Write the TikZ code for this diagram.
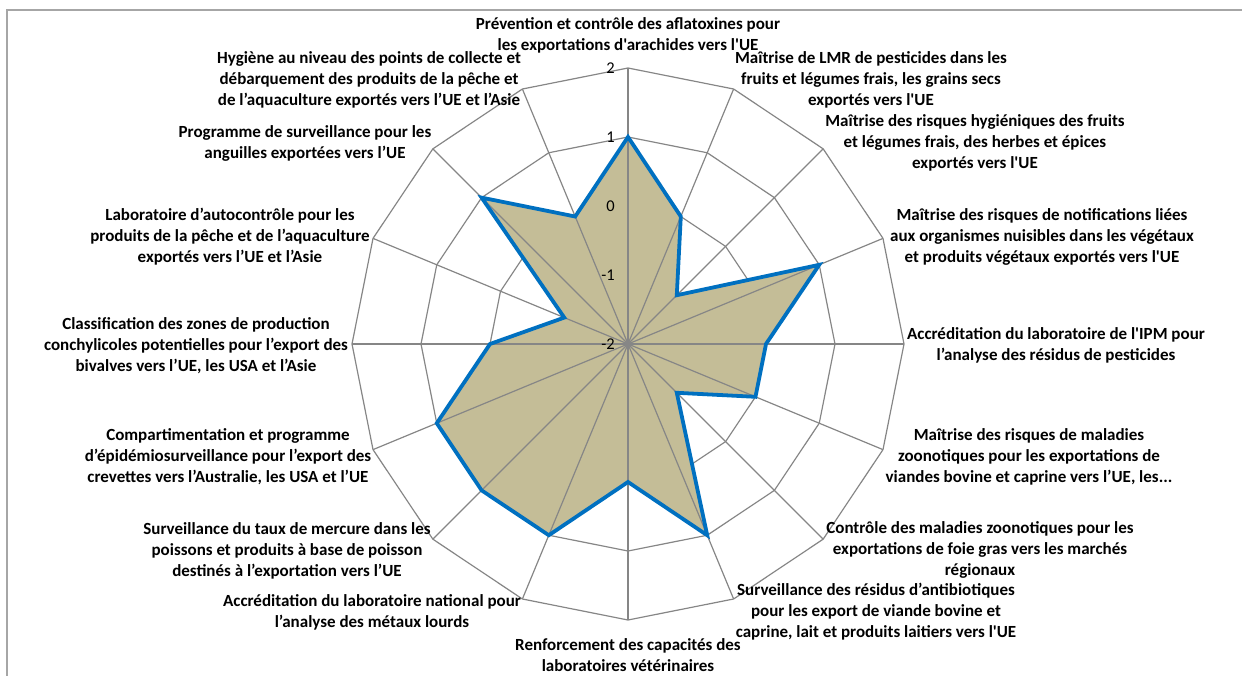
\documentclass[tikz,border=0pt]{standalone}
\usepackage{fontspec}
\newfontfamily\calib{Carlito}
\usetikzlibrary{calc}
\definecolor{gridgray}{RGB}{134,134,134}
\definecolor{framegray}{RGB}{166,166,166}
\definecolor{tanfill}{RGB}{196,189,151}
\definecolor{serieblue}{RGB}{0,112,192}
\begin{document}
\begin{tikzpicture}[x=1pt,y=-1pt,
  lab/.style={font=\calib\bfseries\fontsize{17}{21}\selectfont, align=center, inner sep=0pt, yshift=-1.5pt},
  tick/.style={font=\calib\fontsize{16.5}{19}\selectfont, anchor=east, inner sep=0pt},
  gridline/.style={draw=gridgray, line width=1.2pt},
  frameline/.style={draw=framegray, line width=1.5pt},
  serie/.style={draw=serieblue, line width=3.8pt, line join=miter},
  area/.style={fill=tanfill, draw=none}]
\useasboundingbox (0,0) rectangle (1242,675);
\draw[frameline] (7,700) |- (1260,10);
\begin{scope}[shift={(628,344)}]
  % rings
  \foreach \r in {69,138,207,276}{
    \draw[gridline] (-90:\r) \foreach \k in {1,...,15}{ -- ({22.5*\k-90}:\r)} -- cycle;
  }
  % data points
  \foreach \k/\r in {0/207,1/138,2/69,3/207,4/138,5/138,6/69,7/207,8/138,9/207,10/207,11/207,12/138,13/69,14/207,15/138}{
    \coordinate (p\k) at ({22.5*\k-90}:\r);
  }
  \foreach \k in {0,...,15}{
    \coordinate (a\k) at ({22.5*\k-90}:276);
  }
  \coordinate (c) at (0,0);
  \fill[area] (p0) -- (p1) -- (p2) -- (p3) -- (p4) -- (p5) -- (p6) -- (p7) -- (p8) -- (p9) -- (p10) -- (p11) -- (p12) -- (p13) -- (p14) -- (p15) -- cycle;
  % spokes
  \foreach \k in {0,...,15}{
    \draw[gridline] (c) -- (a\k);
  }
  \fill[gridgray] (c) circle (3pt);
  \draw[serie] (p0) -- (p1) -- (p2) -- (p3) -- (p4) -- (p5) -- (p6) -- (p7) -- (p8) -- (p9) -- (p10) -- (p11) -- (p12) -- (p13) -- (p14) -- (p15) -- cycle;
  % ticks
  \node[tick] (t2) at (-13,-276) {2};
  \node[tick] (t1) at (-13,-207) {1};
  \node[tick] (t0) at (-13,-138) {0};
  \node[tick] (tm1) at (-13,-69) {-1};
  \node[tick] (tm2) at (-13,0) {-2};
\end{scope}
% labels
\node[lab] (l0) at (628,33.5) {Prévention et contrôle des aflatoxines pour\\les exportations d'arachides vers l'UE};
\node[lab] (l1) at (871,78) {Maîtrise de LMR de pesticides dans les\\fruits et légumes frais, les grains secs\\exportés vers l'UE};
\node[lab] (l2) at (975,141) {Maîtrise des risques hygiéniques des fruits\\et légumes frais, des herbes et épices\\exportés vers l'UE};
\node[lab] (l3) at (1042,235) {Maîtrise des risques de notifications liées\\aux organismes nuisibles dans les végétaux\\et produits végétaux exportés vers l'UE};
\node[lab] (l4) at (1056,344) {Accréditation du laboratoire de l'IPM pour\\l’analyse des résidus de pesticides};
\node[lab] (l5) at (1029,455) {Maîtrise des risques de maladies\\zoonotiques pour les exportations de\\viandes bovine et caprine vers l’UE, les...};
\node[lab] (l6) at (980,548) {Contrôle des maladies zoonotiques pour les\\exportations de foie gras vers les marchés\\régionaux};
\node[lab] (l7) at (876,610) {Surveillance des résidus d’antibiotiques\\pour les export de viande bovine et\\caprine, lait et produits laitiers vers l'UE};
\node[lab] (l8) at (628,654) {Renforcement des capacités des\\laboratoires vétérinaires};
\node[lab] (l9) at (372,610.5) {Accréditation du laboratoire national pour\\l’analyse des métaux lourds};
\node[lab] (l10) at (287,549) {Surveillance du taux de mercure dans les\\poissons et produits à base de poisson\\destinés à l’exportation vers l’UE};
\node[lab] (l11) at (228,455) {Compartimentation et programme\\d’épidémiosurveillance pour l’export des\\crevettes vers l’Australie, les USA et l’UE};
\node[lab] (l12) at (196,344) {Classification des zones de production\\conchylicoles potentielles pour l’export des\\bivalves vers l’UE, les USA et l’Asie};
\node[lab] (l13) at (230,235) {Laboratoire d’autocontrôle pour les\\produits de la pêche et de l’aquaculture\\exportés vers l’UE et l’Asie};
\node[lab] (l14) at (305,141.5) {Programme de surveillance pour les\\anguilles exportées vers l’UE};
\node[lab] (l15) at (369,78) {Hygiène au niveau des points de collecte et\\débarquement des produits de la pêche et\\de l’aquaculture exportés vers l’UE et l’Asie};
\end{tikzpicture}
\end{document}
